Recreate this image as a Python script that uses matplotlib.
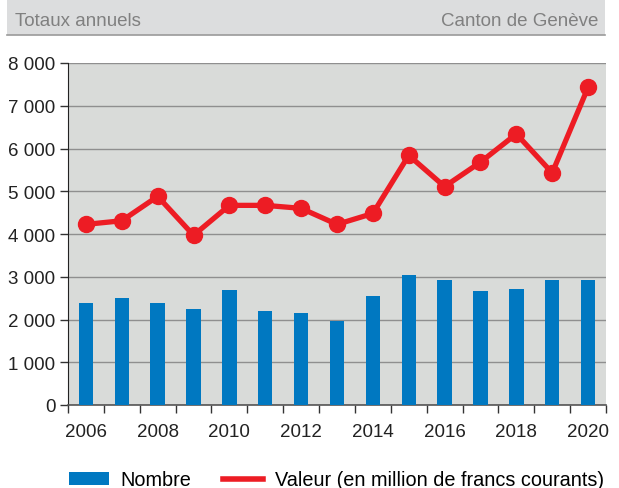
import matplotlib
matplotlib.use("Agg")
import matplotlib.pyplot as plt
from matplotlib.patches import Rectangle, Patch
from matplotlib.lines import Line2D
import numpy as np

plt.rcParams['font.family'] = ['Liberation Sans', 'DejaVu Sans']

years = list(range(2006, 2021))
nombre = [2390, 2500, 2390, 2255, 2700, 2210, 2160, 1970, 2555, 3050, 2920, 2670, 2715, 2920, 2920]
valeur = [4225, 4310, 4880, 3970, 4670, 4670, 4600, 4225, 4480, 5840, 5110, 5680, 6340, 5430, 7430]
yticks = [0, 1000, 2000, 3000, 4000, 5000, 6000, 7000, 8000]
ytick_labels = ["0", "1 000", "2 000", "3 000", "4 000", "5 000", "6 000", "7 000", "8 000"]
title_left = "Totaux annuels"
title_right = "Canton de Genève"
legend_labels = ["Nombre", "Valeur (en million de francs courants)"]

blue = "#0078c1"
red = "#ed1c24"

W, H = 619, 489
fig = plt.figure(figsize=(W/100, H/100), dpi=100)
# header band
fig.patches.append(Rectangle((7/W, 1 - 36/H), 598/W, 36/H, transform=fig.transFigure,
                             facecolor="#dcddde", edgecolor="none", zorder=0))
fig.add_artist(Line2D([7/W, 605/W], [1 - 36/H, 1 - 36/H], transform=fig.transFigure,
                      color="#9a9a9a", lw=1.2))
fig.text(15/W, 1 - 21/H, title_left, ha="left", va="center", fontsize=13.5, color="#808080")
fig.text(598/W, 1 - 21/H, title_right, ha="right", va="center", fontsize=13.5, color="#808080")

ax = fig.add_axes([68/W, 83/H, 538/W, 342/H])
ax.set_facecolor("#d9dbd9")
x = np.arange(len(years))
ax.bar(x, nombre, width=0.4, color=blue, zorder=3)
ax.plot(x, valeur, color=red, lw=3.8, marker="o", markersize=11.5, zorder=4)

ax.set_xlim(-0.5, len(years) - 0.5)
ax.set_ylim(0, 8000)
ax.set_yticks(yticks)
ax.set_yticklabels(ytick_labels)
ax.yaxis.grid(True, color="#8f8f8f", lw=1.0, zorder=1)
ax.set_axisbelow(True)

ax.set_xticks(np.arange(-0.5, len(years), 1.0))
ax.set_xticklabels([])
ax.set_xticks(x[::2], minor=True)
ax.set_xticklabels([str(y) for y in years[::2]], minor=True)
ax.tick_params(axis="x", which="major", length=6, width=1, color="#333333", direction="out")
ax.tick_params(axis="x", which="minor", length=0, pad=13, labelsize=13.5, labelcolor="#222222")
ax.tick_params(axis="y", which="major", length=6, width=1, color="#333333", labelsize=13.5,
               labelcolor="#222222", pad=3)

for s in ["top", "right"]:
    ax.spines[s].set_visible(False)
ax.spines["left"].set_color("#222222")
ax.spines["bottom"].set_color("#555555")
ax.spines["bottom"].set_linewidth(1.2)

handles = [Patch(facecolor=blue, edgecolor="none"),
           Line2D([0], [0], color=red, lw=4)]
fig.legend(handles, legend_labels, loc="center left", bbox_to_anchor=(65/W, 1 - 481/H),
           ncol=2, frameon=False, fontsize=14.3, handlelength=2.0, handleheight=0.6,
           columnspacing=1.6, handletextpad=0.6, borderaxespad=0, borderpad=0.2)

fig.savefig("out.png", dpi=100)
